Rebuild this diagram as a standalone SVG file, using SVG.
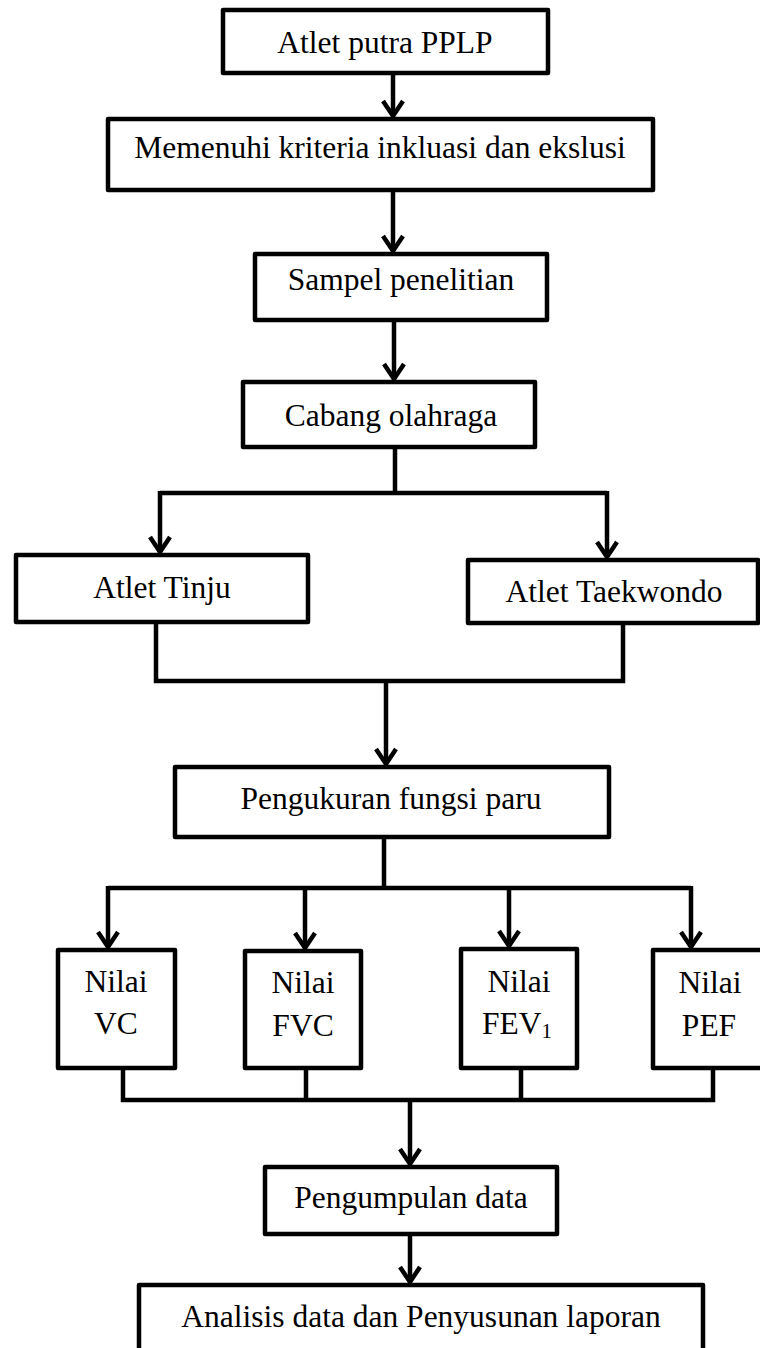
<svg xmlns="http://www.w3.org/2000/svg" width="760" height="1348" viewBox="0 0 760 1348">
<style>
.box{fill:#fff;stroke:#000;stroke-width:4.5;stroke-linejoin:round}
.t{font-family:"Liberation Serif","Times New Roman",serif;font-size:31.5px;fill:#000;text-anchor:middle}
.ln{fill:none;stroke:#000;stroke-width:4.5;stroke-linejoin:miter}
.ah{fill:none;stroke:#000;stroke-width:4.5;stroke-linecap:butt;stroke-linejoin:miter}
</style>
<defs>
<path id="head" d="M-10,-16 L0,-1 L10,-16"/>
</defs>
<rect width="760" height="1348" fill="#fff"/>
<g id="connectors">
<path class="ln" d="M393,73 V116"/>
<use href="#head" class="ah" x="393" y="117"/>
<path class="ln" d="M393,190 V251"/>
<use href="#head" class="ah" x="393" y="252"/>
<path class="ln" d="M394,320 V379"/>
<use href="#head" class="ah" x="394" y="380"/>
<path class="ln" d="M395,447 V493 M160,493 H607 M160,491 V552 M607,491 V554"/>
<use href="#head" class="ah" x="160" y="553"/>
<use href="#head" class="ah" x="607" y="558"/>
<path class="ln" d="M156,622 V681 H623 V623 M386,681 V764"/>
<use href="#head" class="ah" x="386" y="765"/>
<path class="ln" d="M384,837 V888 M108,888 H691 M108,886 V947 M305,886 V948 M509,886 V946 M691,886 V947"/>
<use href="#head" class="ah" x="108" y="948"/>
<use href="#head" class="ah" x="305" y="949"/>
<use href="#head" class="ah" x="509" y="947"/>
<use href="#head" class="ah" x="691" y="948"/>
<path class="ln" d="M123,1068 V1100 H713 V1068 M306,1068 V1100 M521,1068 V1100 M410,1100 V1164"/>
<use href="#head" class="ah" x="410" y="1165"/>
<path class="ln" d="M410,1234 V1282"/>
<use href="#head" class="ah" x="410" y="1283"/>
</g>
<g id="n1"><rect class="box" x="223" y="10" width="325" height="63"/><text class="t" x="385" y="53">Atlet putra PPLP</text></g>
<g id="n2"><rect class="box" x="108" y="119" width="545" height="71"/><text class="t" x="380" y="158">Memenuhi kriteria inkluasi dan ekslusi</text></g>
<g id="n3"><rect class="box" x="255" y="254" width="292" height="66"/><text class="t" x="401" y="290">Sampel penelitian</text></g>
<g id="n4"><rect class="box" x="243" y="382" width="292" height="65"/><text class="t" x="391" y="426">Cabang olahraga</text></g>
<g id="n5"><rect class="box" x="16" y="555" width="292" height="67"/><text class="t" x="162" y="598">Atlet Tinju</text></g>
<g id="n6"><rect class="box" x="468" y="560" width="290" height="63"/><text class="t" x="614" y="602">Atlet Taekwondo</text></g>
<g id="n7"><rect class="box" x="175" y="767" width="434" height="70"/><text class="t" x="391" y="809">Pengukuran fungsi paru</text></g>
<g id="n8"><rect class="box" x="58" y="950" width="117" height="118"/><text class="t" x="116" y="992">Nilai</text><text class="t" x="116" y="1034">VC</text></g>
<g id="n9"><rect class="box" x="245" y="951" width="116" height="117"/><text class="t" x="303" y="993">Nilai</text><text class="t" x="303" y="1036">FVC</text></g>
<g id="n10"><rect class="box" x="461" y="949" width="116" height="119"/><text class="t" x="519" y="992">Nilai</text><text class="t" x="517" y="1034">FEV<tspan font-size="21" dy="4">1</tspan></text></g>
<g id="n11"><rect class="box" x="653" y="950" width="112" height="118"/><text class="t" x="710" y="993">Nilai</text><text class="t" x="709" y="1036">PEF</text></g>
<g id="n12"><rect class="box" x="265" y="1167" width="292" height="67"/><text class="t" x="411" y="1208">Pengumpulan data</text></g>
<g id="n13"><rect class="box" x="139" y="1285" width="564" height="80"/><text class="t" x="421" y="1327">Analisis data dan Penyusunan laporan</text></g>
</svg>
